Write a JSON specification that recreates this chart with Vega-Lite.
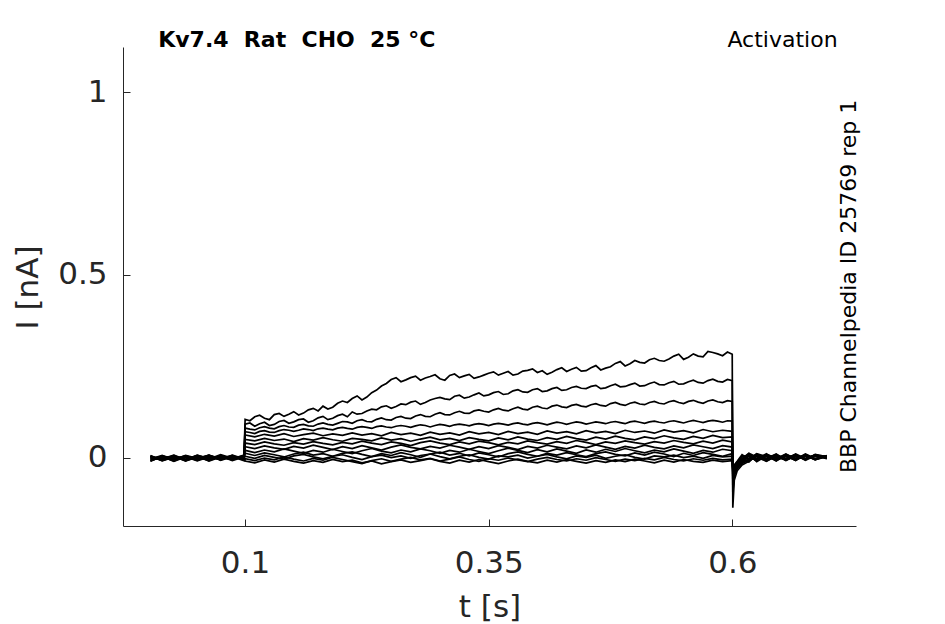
{
  "$schema": "https://vega.github.io/schema/vega-lite/v6.json",
  "width": 733,
  "height": 479,
  "autosize": {"type": "none"},
  "padding": {"left": 123, "top": 47, "right": 89, "bottom": 98},
  "background": "white",
  "config": {
    "view": {"stroke": null},
    "font": "DejaVu Sans",
    "axis": {"grid": false, "labelFont": "DejaVu Sans", "titleFont": "DejaVu Sans", "labelColor": "#262626", "titleColor": "#262626", "domainColor": "#262626", "tickColor": "#262626", "titleFontWeight": "normal", "labelFontSize": 31, "titleFontSize": 31, "tickSize": -7}
  },
  "datasets": {
    "traces": [
      {"t":0.003,"a":0.004,"b":-0.006,"c":0.002,"d":-0.009,"e":0.006,"f":-0.003,"g":0.001,"h":-0.008,"i":0.005,"j":-0.004,"k":0.003,"l":-0.01,"m":0.001},
      {"t":0.015,"a":-0.007,"b":0.003,"c":-0.005,"d":0.005,"e":-0.008,"f":0.004,"g":-0.006,"h":0.002,"i":-0.009,"j":0.006,"k":-0.003,"l":0.004,"m":-0.007},
      {"t":0.027,"a":0.002,"b":-0.009,"c":0.006,"d":-0.002,"e":0.003,"f":-0.01,"g":0.005,"h":-0.005,"i":0.001,"j":-0.007,"k":0.007,"l":-0.003,"m":0.002},
      {"t":0.039,"a":-0.005,"b":0.005,"c":-0.008,"d":0.003,"e":-0.004,"f":0.002,"g":-0.009,"h":0.006,"i":-0.006,"j":0.003,"k":-0.005,"l":0.005,"m":-0.008},
      {"t":0.051,"a":0.006,"b":-0.003,"c":0.001,"d":-0.007,"e":0.005,"f":-0.006,"g":0.003,"h":-0.002,"i":0.007,"j":-0.009,"k":0.002,"l":-0.006,"m":0.004},
      {"t":0.063,"a":-0.002,"b":0.007,"c":-0.006,"d":0.004,"e":-0.009,"f":0.005,"g":-0.004,"h":0.007,"i":-0.003,"j":0.002,"k":-0.008,"l":0.006,"m":-0.005},
      {"t":0.075,"a":0.003,"b":-0.005,"c":0.005,"d":-0.006,"e":0.002,"f":-0.002,"g":0.008,"h":-0.007,"i":0.004,"j":-0.005,"k":0.004,"l":-0.002,"m":0.006},
      {"t":0.087,"a":-0.006,"b":0.002,"c":-0.003,"d":0.007,"e":-0.005,"f":0.006,"g":-0.002,"h":0.003,"i":-0.008,"j":0.005,"k":-0.006,"l":0.003,"m":-0.003},
      {"t":0.099,"a":0.004,"b":-0.004,"c":0.007,"d":-0.003,"e":0.006,"f":-0.007,"g":0.005,"h":-0.004,"i":0.002,"j":-0.006,"k":0.005,"l":-0.008,"m":0.003},
      {"t":0.1001,"a":0.105,"b":0.092,"c":0.081,"d":0.071,"e":0.062,"f":0.05,"g":0.04,"h":0.03,"i":0.02,"j":0.012,"k":0.004,"l":-0.003,"m":-0.009},
      {"t":0.11,"a":0.112,"b":0.086,"c":0.076,"d":0.066,"e":0.057,"f":0.046,"g":0.036,"h":0.025,"i":0.014,"j":0.006,"k":-0.002,"l":-0.008,"m":-0.014},
      {"t":0.12,"a":0.108,"b":0.097,"c":0.085,"d":0.074,"e":0.064,"f":0.053,"g":0.043,"h":0.032,"i":0.021,"j":0.013,"k":0.006,"l":-0.001,"m":-0.006},
      {"t":0.13,"a":0.118,"b":0.091,"c":0.079,"d":0.069,"e":0.059,"f":0.047,"g":0.038,"h":0.027,"i":0.016,"j":0.008,"k":0.001,"l":-0.006,"m":-0.012},
      {"t":0.14,"a":0.113,"b":0.102,"c":0.088,"d":0.077,"e":0.066,"f":0.051,"g":0.034,"h":0.023,"i":0.024,"j":0.002,"k":-0.004,"l":0.002,"m":-0.004},
      {"t":0.15,"a":0.126,"b":0.098,"c":0.083,"d":0.072,"e":0.058,"f":0.044,"g":0.041,"h":0.031,"i":0.018,"j":0.01,"k":0.005,"l":-0.004,"m":-0.01},
      {"t":0.16,"a":0.122,"b":0.106,"c":0.091,"d":0.079,"e":0.063,"f":0.052,"g":0.037,"h":0.026,"i":0.012,"j":0.015,"k":0.009,"l":-0.009,"m":-0.015},
      {"t":0.17,"a":0.135,"b":0.101,"c":0.086,"d":0.074,"e":0.067,"f":0.048,"g":0.044,"h":0.034,"i":0.02,"j":0.007,"k":0.002,"l":-0.002,"m":-0.008},
      {"t":0.18,"a":0.141,"b":0.113,"c":0.095,"d":0.081,"e":0.06,"f":0.055,"g":0.039,"h":0.028,"i":0.015,"j":0.011,"k":-0.003,"l":-0.007,"m":-0.013},
      {"t":0.19,"a":0.138,"b":0.108,"c":0.089,"d":0.076,"e":0.065,"f":0.049,"g":0.035,"h":0.022,"i":0.023,"j":0.004,"k":0.004,"l":0.001,"m":-0.005},
      {"t":0.2,"a":0.155,"b":0.119,"c":0.099,"d":0.083,"e":0.061,"f":0.045,"g":0.042,"h":0.03,"i":0.017,"j":0.012,"k":0.008,"l":-0.005,"m":-0.011},
      {"t":0.21,"a":0.162,"b":0.125,"c":0.094,"d":0.078,"e":0.068,"f":0.053,"g":0.038,"h":0.025,"i":0.011,"j":0.016,"k":0.001,"l":-0.011,"m":-0.007},
      {"t":0.22,"a":0.158,"b":0.121,"c":0.104,"d":0.085,"e":0.062,"f":0.05,"g":0.045,"h":0.033,"i":0.019,"j":0.009,"k":-0.005,"l":-0.016,"m":-0.014},
      {"t":0.23,"a":0.178,"b":0.133,"c":0.098,"d":0.08,"e":0.066,"f":0.046,"g":0.04,"h":0.027,"i":0.025,"j":0.003,"k":0.003,"l":-0.008,"m":-0.009},
      {"t":0.24,"a":0.196,"b":0.139,"c":0.109,"d":0.087,"e":0.06,"f":0.054,"g":0.036,"h":0.021,"i":0.018,"j":0.011,"k":0.007,"l":-0.003,"m":-0.017},
      {"t":0.25,"a":0.214,"b":0.135,"c":0.103,"d":0.082,"e":0.069,"f":0.048,"g":0.043,"h":0.029,"i":0.013,"j":0.006,"k":0.0,"l":-0.01,"m":-0.011},
      {"t":0.26,"a":0.208,"b":0.147,"c":0.113,"d":0.088,"e":0.063,"f":0.052,"g":0.039,"h":0.035,"i":0.021,"j":0.014,"k":0.005,"l":-0.004,"m":-0.006},
      {"t":0.27,"a":0.219,"b":0.152,"c":0.107,"d":0.083,"e":0.067,"f":0.045,"g":0.033,"h":0.028,"i":0.016,"j":0.008,"k":-0.002,"l":0.001,"m":-0.013},
      {"t":0.28,"a":0.212,"b":0.146,"c":0.118,"d":0.09,"e":0.061,"f":0.051,"g":0.041,"h":0.024,"i":0.024,"j":0.001,"k":0.006,"l":-0.006,"m":-0.008},
      {"t":0.29,"a":0.222,"b":0.158,"c":0.112,"d":0.084,"e":0.07,"f":0.056,"g":0.046,"h":0.031,"i":0.019,"j":0.01,"k":0.01,"l":-0.002,"m":-0.003},
      {"t":0.3,"a":0.216,"b":0.165,"c":0.123,"d":0.091,"e":0.064,"f":0.049,"g":0.04,"h":0.026,"i":0.012,"j":0.015,"k":0.003,"l":-0.009,"m":-0.01},
      {"t":0.31,"a":0.225,"b":0.159,"c":0.117,"d":0.086,"e":0.068,"f":0.053,"g":0.036,"h":0.034,"i":0.02,"j":0.007,"k":-0.003,"l":-0.004,"m":-0.015},
      {"t":0.32,"a":0.219,"b":0.171,"c":0.127,"d":0.092,"e":0.062,"f":0.047,"g":0.043,"h":0.029,"i":0.015,"j":0.012,"k":0.004,"l":0.002,"m":-0.007},
      {"t":0.33,"a":0.228,"b":0.166,"c":0.121,"d":0.087,"e":0.071,"f":0.055,"g":0.038,"h":0.023,"i":0.023,"j":0.005,"k":0.008,"l":-0.005,"m":-0.012},
      {"t":0.34,"a":0.221,"b":0.177,"c":0.131,"d":0.093,"e":0.065,"f":0.05,"g":0.045,"h":0.03,"i":0.017,"j":0.013,"k":0.001,"l":-0.01,"m":-0.005},
      {"t":0.35,"a":0.231,"b":0.172,"c":0.125,"d":0.088,"e":0.069,"f":0.046,"g":0.041,"h":0.025,"i":0.011,"j":0.008,"k":-0.004,"l":-0.003,"m":-0.011},
      {"t":0.36,"a":0.226,"b":0.181,"c":0.135,"d":0.094,"e":0.063,"f":0.054,"g":0.035,"h":0.033,"i":0.019,"j":0.002,"k":0.005,"l":-0.007,"m":-0.016},
      {"t":0.37,"a":0.236,"b":0.175,"c":0.128,"d":0.089,"e":0.072,"f":0.049,"g":0.042,"h":0.028,"i":0.026,"j":0.011,"k":0.002,"l":-0.001,"m":-0.009},
      {"t":0.38,"a":0.229,"b":0.186,"c":0.138,"d":0.095,"e":0.066,"f":0.057,"g":0.038,"h":0.022,"i":0.02,"j":0.016,"k":0.007,"l":-0.006,"m":-0.004},
      {"t":0.39,"a":0.239,"b":0.179,"c":0.131,"d":0.09,"e":0.07,"f":0.051,"g":0.046,"h":0.031,"i":0.014,"j":0.009,"k":-0.001,"l":-0.011,"m":-0.01},
      {"t":0.4,"a":0.233,"b":0.189,"c":0.141,"d":0.096,"e":0.064,"f":0.047,"g":0.041,"h":0.026,"i":0.022,"j":0.004,"k":0.004,"l":-0.004,"m":-0.014},
      {"t":0.41,"a":0.228,"b":0.183,"c":0.134,"d":0.09,"e":0.073,"f":0.055,"g":0.037,"h":0.034,"i":0.016,"j":0.012,"k":0.009,"l":0.001,"m":-0.007},
      {"t":0.42,"a":0.241,"b":0.192,"c":0.144,"d":0.097,"e":0.067,"f":0.05,"g":0.044,"h":0.029,"i":0.024,"j":0.007,"k":0.002,"l":-0.005,"m":-0.012},
      {"t":0.43,"a":0.236,"b":0.186,"c":0.137,"d":0.091,"e":0.071,"f":0.058,"g":0.039,"h":0.024,"i":0.018,"j":0.014,"k":-0.003,"l":-0.009,"m":-0.005},
      {"t":0.44,"a":0.247,"b":0.195,"c":0.146,"d":0.098,"e":0.065,"f":0.052,"g":0.047,"h":0.032,"i":0.012,"j":0.008,"k":0.005,"l":-0.003,"m":-0.01},
      {"t":0.45,"a":0.238,"b":0.189,"c":0.139,"d":0.092,"e":0.074,"f":0.048,"g":0.042,"h":0.027,"i":0.021,"j":0.003,"k":0.001,"l":-0.007,"m":-0.015},
      {"t":0.46,"a":0.252,"b":0.198,"c":0.148,"d":0.098,"e":0.068,"f":0.056,"g":0.036,"h":0.035,"i":0.015,"j":0.011,"k":0.007,"l":0.0,"m":-0.008},
      {"t":0.47,"a":0.245,"b":0.191,"c":0.141,"d":0.093,"e":0.072,"f":0.051,"g":0.043,"h":0.029,"i":0.023,"j":0.016,"k":-0.002,"l":-0.005,"m":-0.013},
      {"t":0.48,"a":0.258,"b":0.201,"c":0.151,"d":0.099,"e":0.066,"f":0.059,"g":0.039,"h":0.023,"i":0.017,"j":0.009,"k":0.004,"l":-0.01,"m":-0.006},
      {"t":0.49,"a":0.251,"b":0.195,"c":0.143,"d":0.093,"e":0.075,"f":0.053,"g":0.046,"h":0.031,"i":0.025,"j":0.005,"k":0.008,"l":-0.004,"m":-0.011},
      {"t":0.5,"a":0.266,"b":0.204,"c":0.152,"d":0.1,"e":0.069,"f":0.049,"g":0.041,"h":0.026,"i":0.019,"j":0.013,"k":0.001,"l":-0.008,"m":-0.004},
      {"t":0.51,"a":0.259,"b":0.197,"c":0.145,"d":0.094,"e":0.073,"f":0.057,"g":0.037,"h":0.034,"i":0.013,"j":0.007,"k":-0.004,"l":-0.002,"m":-0.009},
      {"t":0.52,"a":0.272,"b":0.207,"c":0.154,"d":0.1,"e":0.067,"f":0.052,"g":0.044,"h":0.028,"i":0.021,"j":0.015,"k":0.005,"l":-0.006,"m":-0.014},
      {"t":0.53,"a":0.264,"b":0.199,"c":0.147,"d":0.095,"e":0.076,"f":0.06,"g":0.04,"h":0.024,"i":0.016,"j":0.01,"k":0.002,"l":0.001,"m":-0.007},
      {"t":0.54,"a":0.278,"b":0.209,"c":0.156,"d":0.101,"e":0.07,"f":0.054,"g":0.047,"h":0.032,"i":0.024,"j":0.003,"k":0.007,"l":-0.005,"m":-0.012},
      {"t":0.55,"a":0.269,"b":0.202,"c":0.148,"d":0.095,"e":0.074,"f":0.05,"g":0.042,"h":0.027,"i":0.018,"j":0.012,"k":0.0,"l":-0.009,"m":-0.005},
      {"t":0.56,"a":0.284,"b":0.212,"c":0.157,"d":0.102,"e":0.068,"f":0.058,"g":0.038,"h":0.035,"i":0.012,"j":0.006,"k":0.004,"l":-0.003,"m":-0.01},
      {"t":0.57,"a":0.276,"b":0.204,"c":0.149,"d":0.096,"e":0.077,"f":0.053,"g":0.045,"h":0.03,"i":0.02,"j":0.014,"k":-0.002,"l":-0.007,"m":-0.013},
      {"t":0.58,"a":0.288,"b":0.215,"c":0.158,"d":0.102,"e":0.071,"f":0.061,"g":0.04,"h":0.025,"i":0.015,"j":0.009,"k":0.006,"l":-0.002,"m":-0.007},
      {"t":0.59,"a":0.279,"b":0.207,"c":0.151,"d":0.097,"e":0.075,"f":0.055,"g":0.048,"h":0.033,"i":0.023,"j":0.004,"k":0.002,"l":-0.006,"m":-0.011},
      {"t":0.5999,"a":0.283,"b":0.211,"c":0.154,"d":0.1,"e":0.072,"f":0.057,"g":0.043,"h":0.029,"i":0.019,"j":0.011,"k":0.004,"l":-0.004,"m":-0.008},
      {"t":0.6005,"a":-0.137,"b":-0.095,"c":-0.075,"d":-0.06,"e":-0.05,"f":-0.045,"g":-0.04,"h":-0.036,"i":-0.032,"j":-0.03,"k":-0.028,"l":-0.026,"m":-0.03},
      {"t":0.602,"a":-0.062,"b":-0.05,"c":-0.044,"d":-0.04,"e":-0.036,"f":-0.033,"g":-0.03,"h":-0.028,"i":-0.026,"j":-0.024,"k":-0.022,"l":-0.02,"m":-0.025},
      {"t":0.605,"a":-0.036,"b":-0.03,"c":-0.027,"d":-0.025,"e":-0.022,"f":-0.02,"g":-0.018,"h":-0.016,"i":-0.015,"j":-0.013,"k":-0.012,"l":-0.01,"m":-0.017},
      {"t":0.61,"a":-0.02,"b":-0.012,"c":-0.016,"d":-0.008,"e":-0.014,"f":-0.004,"g":-0.011,"h":0.002,"i":-0.007,"j":0.005,"k":-0.003,"l":0.008,"m":-0.009},
      {"t":0.617,"a":-0.01,"b":0.004,"c":-0.006,"d":0.009,"e":-0.002,"f":0.011,"g":-0.008,"h":0.006,"i":-0.012,"j":0.003,"k":0.012,"l":-0.004,"m":0.007},
      {"t":0.625,"a":0.005,"b":-0.009,"c":0.01,"d":-0.004,"e":0.008,"f":-0.011,"g":0.004,"h":-0.006,"i":0.009,"j":-0.008,"k":0.002,"l":0.011,"m":-0.005},
      {"t":0.635,"a":-0.006,"b":0.008,"c":-0.003,"d":0.011,"e":-0.009,"f":0.005,"g":-0.002,"h":0.009,"i":-0.007,"j":0.006,"k":-0.01,"l":0.003,"m":0.008},
      {"t":0.645,"a":0.007,"b":-0.004,"c":0.009,"d":-0.007,"e":0.004,"f":-0.008,"g":0.01,"h":-0.003,"i":0.006,"j":-0.009,"k":0.005,"l":-0.006,"m":0.001},
      {"t":0.655,"a":-0.003,"b":0.009,"c":-0.007,"d":0.005,"e":-0.004,"f":0.008,"g":-0.006,"h":0.01,"i":-0.002,"j":0.007,"k":-0.008,"l":0.004,"m":-0.005},
      {"t":0.665,"a":0.008,"b":-0.002,"c":0.006,"d":-0.008,"e":0.01,"f":-0.003,"g":0.007,"h":-0.005,"i":0.009,"j":-0.004,"k":0.006,"l":-0.007,"m":0.003},
      {"t":0.675,"a":-0.004,"b":0.007,"c":-0.005,"d":0.009,"e":-0.002,"f":0.006,"g":-0.007,"h":0.004,"i":-0.006,"j":0.01,"k":-0.003,"l":0.008,"m":-0.004},
      {"t":0.685,"a":0.006,"b":-0.005,"c":0.008,"d":-0.003,"e":0.007,"f":-0.006,"g":0.005,"h":-0.004,"i":0.009,"j":-0.002,"k":0.007,"l":-0.005,"m":0.006},
      {"t":0.697,"a":0.002,"b":0.005,"c":-0.002,"d":0.004,"e":0.001,"f":0.006,"g":-0.003,"h":0.005,"i":0.002,"j":0.004,"k":-0.001,"l":0.003,"m":0.004},
      {"t":0.105,"a":0.101,"b":0.095,"c":0.078,"d":0.069},
      {"t":0.115,"a":0.116,"b":0.093,"c":0.082,"d":0.072},
      {"t":0.125,"a":0.104,"b":0.088,"c":0.081,"d":0.07},
      {"t":0.135,"a":0.121,"b":0.099,"c":0.085,"d":0.074},
      {"t":0.145,"a":0.119,"b":0.094,"c":0.084,"d":0.075},
      {"t":0.155,"a":0.117,"b":0.104,"c":0.089,"d":0.075},
      {"t":0.165,"a":0.131,"b":0.097,"c":0.087,"d":0.077},
      {"t":0.175,"a":0.128,"b":0.109,"c":0.092,"d":0.079},
      {"t":0.185,"a":0.133,"b":0.104,"c":0.091,"d":0.078},
      {"t":0.195,"a":0.149,"b":0.115,"c":0.094,"d":0.081},
      {"t":0.205,"a":0.151,"b":0.112,"c":0.098,"d":0.08},
      {"t":0.215,"a":0.169,"b":0.119,"c":0.101,"d":0.083},
      {"t":0.225,"a":0.166,"b":0.128,"c":0.099,"d":0.083},
      {"t":0.235,"a":0.185,"b":0.131,"c":0.105,"d":0.085},
      {"t":0.245,"a":0.203,"b":0.142,"c":0.104,"d":0.084},
      {"t":0.255,"a":0.219,"b":0.14,"c":0.11,"d":0.086},
      {"t":0.265,"a":0.213,"b":0.145,"c":0.108,"d":0.086},
      {"t":0.275,"a":0.223,"b":0.155,"c":0.114,"d":0.087},
      {"t":0.285,"a":0.218,"b":0.151,"c":0.113,"d":0.088},
      {"t":0.295,"a":0.227,"b":0.162,"c":0.119,"d":0.088},
      {"t":0.305,"a":0.212,"b":0.161,"c":0.118,"d":0.089},
      {"t":0.315,"a":0.229,"b":0.168,"c":0.123,"d":0.09},
      {"t":0.325,"a":0.224,"b":0.163,"c":0.122,"d":0.09},
      {"t":0.335,"a":0.217,"b":0.172,"c":0.128,"d":0.091},
      {"t":0.345,"a":0.226,"b":0.169,"c":0.127,"d":0.091},
      {"t":0.355,"a":0.235,"b":0.178,"c":0.131,"d":0.092},
      {"t":0.365,"a":0.231,"b":0.173,"c":0.13,"d":0.092},
      {"t":0.375,"a":0.226,"b":0.183,"c":0.134,"d":0.093},
      {"t":0.385,"a":0.237,"b":0.18,"c":0.133,"d":0.092},
      {"t":0.395,"a":0.243,"b":0.186,"c":0.138,"d":0.094},
      {"t":0.405,"a":0.238,"b":0.181,"c":0.136,"d":0.093},
      {"t":0.415,"a":0.234,"b":0.189,"c":0.141,"d":0.094},
      {"t":0.425,"a":0.246,"b":0.184,"c":0.139,"d":0.095},
      {"t":0.435,"a":0.242,"b":0.192,"c":0.143,"d":0.095},
      {"t":0.445,"a":0.237,"b":0.19,"c":0.141,"d":0.096},
      {"t":0.455,"a":0.246,"b":0.195,"c":0.145,"d":0.095},
      {"t":0.465,"a":0.24,"b":0.189,"c":0.143,"d":0.096},
      {"t":0.475,"a":0.249,"b":0.197,"c":0.148,"d":0.097},
      {"t":0.485,"a":0.263,"b":0.194,"c":0.146,"d":0.096},
      {"t":0.495,"a":0.257,"b":0.2,"c":0.149,"d":0.098},
      {"t":0.505,"a":0.261,"b":0.196,"c":0.147,"d":0.097},
      {"t":0.515,"a":0.268,"b":0.203,"c":0.151,"d":0.098},
      {"t":0.525,"a":0.266,"b":0.2,"c":0.149,"d":0.097},
      {"t":0.535,"a":0.27,"b":0.205,"c":0.153,"d":0.099},
      {"t":0.545,"a":0.283,"b":0.201,"c":0.151,"d":0.098},
      {"t":0.555,"a":0.275,"b":0.208,"c":0.154,"d":0.099},
      {"t":0.565,"a":0.278,"b":0.206,"c":0.152,"d":0.099},
      {"t":0.575,"a":0.291,"b":0.211,"c":0.155,"d":0.1},
      {"t":0.585,"a":0.284,"b":0.209,"c":0.153,"d":0.1},
      {"t":0.595,"a":0.289,"b":0.214,"c":0.156,"d":0.101}
    ]
  },
  "layer": [
    {
      "data": {"name": "traces"},
      "transform": [
        {"fold": ["a","b","c","d","e","f","g","h","i","j","k","l","m"], "as": ["s","i"]},
        {"filter": "isValid(datum.i)"}
      ],
      "mark": {"type": "line", "color": "black", "strokeWidth": 1.7, "clip": false},
      "encoding": {
        "x": {"field": "t", "type": "quantitative", "scale": {"domain": [-0.0252, 0.7269], "nice": false, "zero": false},
              "axis": {"values": [0.1, 0.35, 0.6], "format": "~g", "title": "t [s]", "labelBaseline": "alphabetic", "labelPadding": 53.7, "titleBaseline": "alphabetic", "titleY": 90, "titleX": 366.5}},
        "y": {"field": "i", "type": "quantitative", "scale": {"domain": [-0.187, 1.124], "nice": false, "zero": false},
              "axis": {"values": [0, 0.5, 1], "format": "~g", "title": "I [nA]", "labelPadding": 23, "titleAngle": 270, "titleBaseline": "alphabetic", "titleX": -86, "titleY": 240}},
        "detail": {"field": "s"},
        "order": {"field": "t", "type": "quantitative"}
      }
    },
    {
      "data": {"values": [{}]},
      "mark": {"type": "text", "text": "Kv7.4\u00a0 Rat\u00a0 CHO\u00a0 25 °C", "font": "DejaVu Sans", "fontWeight": "bold", "fontSize": 22, "align": "left", "baseline": "alphabetic", "color": "black"},
      "encoding": {
        "x": {"datum": 0.0109, "type": "quantitative", "scale": {"domain": [-0.0252, 0.7269], "nice": false, "zero": false}},
        "y": {"datum": 1.123, "type": "quantitative", "scale": {"domain": [-0.187, 1.124], "nice": false, "zero": false}}
      }
    },
    {
      "data": {"values": [{}]},
      "mark": {"type": "text", "text": "Activation", "font": "DejaVu Sans", "fontSize": 22, "align": "left", "baseline": "alphabetic", "color": "black"},
      "encoding": {
        "x": {"datum": 0.595, "type": "quantitative", "scale": {"domain": [-0.0252, 0.7269], "nice": false, "zero": false}},
        "y": {"datum": 1.123, "type": "quantitative", "scale": {"domain": [-0.187, 1.124], "nice": false, "zero": false}}
      }
    },
    {
      "data": {"values": [{}]},
      "mark": {"type": "text", "text": "BBP Channelpedia ID 25769 rep 1", "font": "DejaVu Sans", "fontSize": 22, "align": "left", "baseline": "alphabetic", "angle": 270, "color": "black"},
      "encoding": {
        "x": {"datum": 0.7269, "type": "quantitative", "scale": {"domain": [-0.0252, 0.7269], "nice": false, "zero": false}},
        "y": {"datum": -0.042, "type": "quantitative", "scale": {"domain": [-0.187, 1.124], "nice": false, "zero": false}}
      }
    }
  ]
}
